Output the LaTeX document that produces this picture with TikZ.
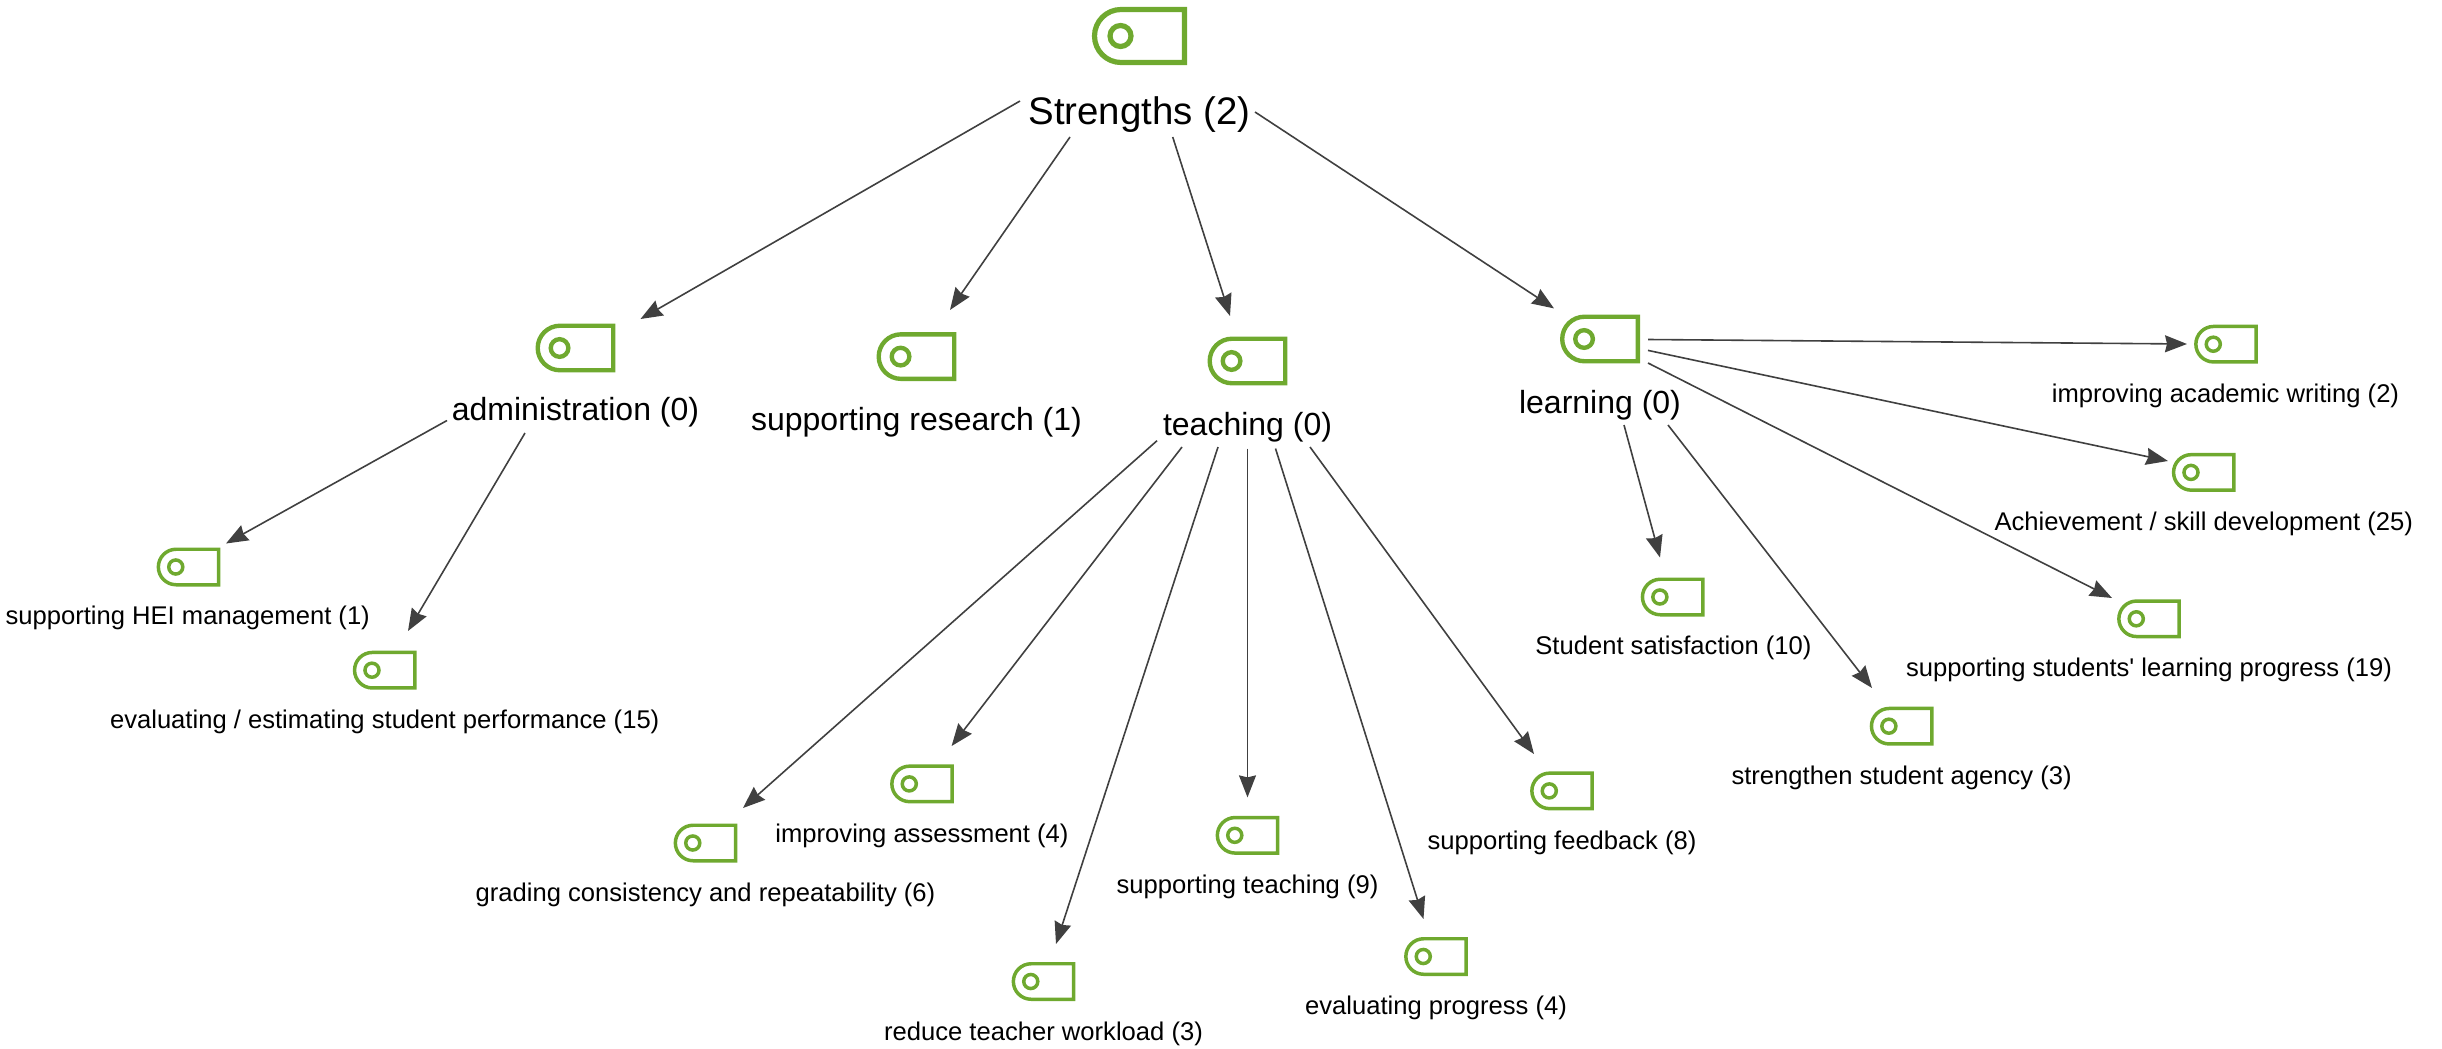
\documentclass[tikz,border=0pt]{standalone}
\usepackage{fontspec}
\setmainfont{Liberation Sans}
\setmonofont{Liberation Sans}
\usetikzlibrary{arrows.meta}
\definecolor{taggreen}{HTML}{6FA92F}
\definecolor{linkgrey}{HTML}{404040}
\tikzset{
  hugelabel/.style={inner sep=0pt,text=black,font=\fontsize{19.2}{22}\selectfont},
  biglabel/.style={inner sep=0pt,text=black,font=\fontsize{16}{18}\selectfont},
  smalllabel/.style={inner sep=0pt,text=black,font=\fontsize{12.8}{15}\selectfont},
  iconbox/.style={rectangle,inner sep=0pt},
  tagline/.style={draw=taggreen,line join=miter},
  linkline/.style={draw=linkgrey,line width=0.8pt,-{Stealth[length=11pt,width=8.5pt,inset=1pt]}}
}
\newcommand{\tagicon}[4]{% name, x, y, scale
  \pgfmathsetmacro{\tagw}{47.5*#4}\pgfmathsetmacro{\tagh}{29*#4}\pgfmathsetmacro{\taglw}{2.6*#4}
  \node[iconbox,minimum width=\tagw pt,minimum height=\tagh pt] (#1) at (#2,#3) {};
  \begin{scope}[shift={(#1.center)},scale=#4]
    \draw[tagline,line width=\taglw pt] (45,-26.5) -- (-18.5,-26.5) arc[start angle=270,end angle=90,radius=26.5] -- (45,26.5) -- cycle;
    \draw[tagline,line width=\taglw pt] (-19,0) circle[radius=10.5];
  \end{scope}
}
\newcommand{\link}[6]{\draw[linkline] ([shift={(#2,#3)}]#1.center) -- ([shift={(#5,#6)}]#4.center);}
\begin{document}
\begin{tikzpicture}[x=0.5pt,y=-0.5pt]
\useasboundingbox (0,0) rectangle (2442,1049);
% icons
\tagicon{rooti}{1139.5}{36}{1}
\tagicon{admi}{575.5}{348}{0.84}
\tagicon{resi}{916.5}{356.6}{0.84}
\tagicon{teai}{1247.5}{361}{0.84}
\tagicon{leai}{1600}{339}{0.84}
\tagicon{heii}{188.5}{567}{0.67}
\tagicon{evsi}{384.7}{670.2}{0.67}
\tagicon{grai}{705.5}{843}{0.67}
\tagicon{assi}{922}{783.9}{0.67}
\tagicon{stei}{1247.5}{835.3}{0.67}
\tagicon{redi}{1043.5}{981.5}{0.67}
\tagicon{prgi}{1436}{956.5}{0.67}
\tagicon{fdbi}{1562}{790.9}{0.67}
\tagicon{sati}{1672.6}{597}{0.67}
\tagicon{stri}{1901.6}{726.2}{0.67}
\tagicon{sspi}{2149}{618.8}{0.67}
\tagicon{achi}{2203.7}{472.4}{0.67}
\tagicon{acai}{2226}{344.2}{0.67}
% labels
\node[hugelabel] (root) at (1139.5,115) {Strengths (2)};
\node[biglabel] (adm) at (575.5,412.6) {administration (0)};
\node[biglabel] (res) at (916.5,422) {supporting research (1)};
\node[biglabel] (tea) at (1247.5,427.4) {teaching (0)};
\node[biglabel] (lea) at (1600,405) {learning (0)};
\node[smalllabel] (hei) at (187.7,618) {supporting HEI management (1)};
\node[smalllabel] (evs) at (384.7,721.7) {evaluating / estimating student performance (15)};
\node[smalllabel] (gra) at (705.5,894.6) {grading consistency and repeatability (6)};
\node[smalllabel] (ass) at (922,835.4) {improving assessment (4)};
\node[smalllabel] (ste) at (1247.5,886.8) {supporting teaching (9)};
\node[smalllabel] (red) at (1043.5,1034) {reduce teacher workload (3)};
\node[smalllabel] (prg) at (1436,1007.5) {evaluating progress (4)};
\node[smalllabel] (fdb) at (1562,842.4) {supporting feedback (8)};
\node[smalllabel] (sat) at (1673.4,647.8) {Student satisfaction (10)};
\node[smalllabel] (str) at (1901.6,777.8) {strengthen student agency (3)};
\node[smalllabel] (ssp) at (2149,670.3) {supporting students{\ttfamily'} learning progress (19)};
\node[smalllabel] (ach) at (2203.7,524) {Achievement / skill development (25)};
\node[smalllabel] (aca) at (2225.5,396.2) {improving academic writing (2)};
% connectors
\link{root}{-119.5}{-14}{admi}{65}{-29}
\link{root}{-69.5}{22}{resi}{33.5}{-46.6}
\link{root}{33.2}{22}{teai}{-17.5}{-45}
\link{root}{115.5}{-3}{leai}{-46}{-30.6}
\link{adm}{-128.5}{7.9}{heii}{37.5}{-23.5}
\link{adm}{-50.5}{20.4}{evsi}{23.3}{-39.2}
\link{tea}{-90.5}{13.3}{grai}{37.5}{-35}
\link{tea}{-65.5}{19.6}{assi}{29.6}{-37.9}
\link{tea}{-29.5}{19.6}{redi}{12.5}{-37.5}
\link{tea}{0}{21.1}{stei}{0}{-37.9}
\link{tea}{28}{21.1}{prgi}{-12.5}{-37.5}
\link{tea}{62.5}{19.6}{fdbi}{-28}{-36.9}
\link{lea}{24}{20}{sati}{-12.6}{-39.5}
\link{lea}{68}{20}{stri}{-29.6}{-38.2}
\link{leai}{48}{24}{sspi}{-37}{-20.8}
\link{leai}{48}{11.4}{achi}{-35.7}{-11.4}
\link{leai}{48}{0.5}{acai}{-39}{-0.2}
\end{tikzpicture}
\end{document}
